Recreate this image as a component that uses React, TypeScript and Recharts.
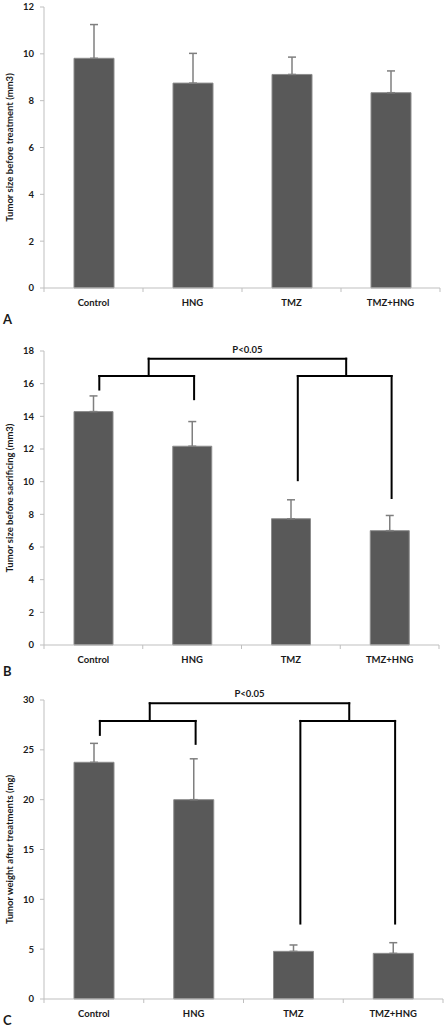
import React from 'react';
import { BarChart, Bar, XAxis, YAxis, ErrorBar, ReferenceLine } from 'recharts';

const FONT = 'Lato, "Open Sans", sans-serif';
const TEXT = '#1a1a1a';
const AXIS = '#bfbfbf';

const categories = ['Control', 'HNG', 'TMZ', 'TMZ+HNG'];
const positions = [0.5, 1.5, 2.5, 3.5];
const xTicks = [0, 0.5, 1, 1.5, 2, 2.5, 3, 3.5, 4];

const meanA = [9.81, 8.75, 9.12, 8.34];
const errA = [1.44, 1.27, 0.74, 0.93];
const ticksA = [0, 2, 4, 6, 8, 10, 12];

const meanB = [14.29, 12.17, 7.73, 7.0];
const errB = [0.96, 1.51, 1.16, 0.93];
const ticksB = [0, 2, 4, 6, 8, 10, 12, 14, 16, 18];

const meanC = [23.75, 20.0, 4.78, 4.58];
const errC = [1.9, 4.1, 0.64, 1.07];
const ticksC = [0, 5, 10, 15, 20, 25, 30];

// bracket geometry in axis units
const bracketX = [0.56, 1.52, 2.57, 3.52];
const stemX = [1.06, 3.06];
const bracketB = { top: 17.53, bar: 16.47, legs: [15.64, 15.05, 10.09, 9.0] };
const bracketC = { top: 29.67, bar: 27.9, legs: [26.5, 25.6, 7.57, 7.57] };
const pLabel = 'P<0.05';

const XTick = (props: any) => {
  const { x, y, payload } = props;
  const v = payload.value;
  if (Number.isInteger(v)) {
    return <line x1={x} x2={x} y1={y} y2={y + 4} stroke={AXIS} strokeWidth={1} />;
  }
  return (
    <text x={x} y={y + 17.5} textAnchor="middle" fill={TEXT} fontSize={9.5} fontWeight={700} fontFamily={FONT}>
      {categories[Math.floor(v)]}
    </text>
  );
};

function buildBrackets(b: { top: number; bar: number; legs: number[] } | null) {
  if (!b) return null;
  const seg = (x1: number, y1: number, x2: number, y2: number, key: string, label?: any) => (
    <ReferenceLine
      key={key}
      segment={[{ x: x1, y: y1 }, { x: x2, y: y2 }]}
      stroke="#000"
      strokeWidth={2}
      strokeLinecap="square"
      ifOverflow="visible"
      label={label}
    />
  );
  const out: any[] = [];
  out.push(seg(bracketX[0], b.bar, bracketX[1], b.bar, 'hl'));
  out.push(seg(bracketX[2], b.bar, bracketX[3], b.bar, 'hr'));
  bracketX.forEach((x, i) => out.push(seg(x, b.bar, x, b.legs[i], 'leg' + i)));
  stemX.forEach((x, i) => out.push(seg(x, b.bar, x, b.top, 'stem' + i)));
  out.push(
    seg(stemX[0], b.top, stemX[1], b.top, 'top', {
      value: pLabel,
      position: 'top',
      offset: 6,
      fill: TEXT,
      fontSize: 9.5,
      fontWeight: 700,
      fontFamily: FONT,
    })
  );
  return out;
}

function Panel(props: {
  means: number[];
  errs: number[];
  ticks: number[];
  label: string;
  height: number;
  marginTop: number;
  marginRight: number;
  barSize: number;
  brackets: { top: number; bar: number; legs: number[] } | null;
}) {
  const data = categories.map((name, i) => ({
    x: positions[i],
    name,
    mean: props.means[i],
    errRange: [0, props.errs[i]],
  }));
  const max = props.ticks[props.ticks.length - 1];
  return (
    <BarChart
      width={447}
      height={props.height}
      data={data}
      margin={{ top: props.marginTop, right: props.marginRight, bottom: 0, left: 0 }}
    >
      <XAxis
        dataKey="x"
        type="number"
        domain={[0, 4]}
        ticks={xTicks}
        interval={0}
        tickLine={false}
        tickSize={0}
        tickMargin={0}
        axisLine={{ stroke: AXIS }}
        tick={<XTick />}
        height={30}
        allowDataOverflow
      />
      <YAxis
        type="number"
        domain={[0, max]}
        ticks={props.ticks}
        interval={0}
        width={44}
        tickSize={4}
        tickMargin={6}
        axisLine={{ stroke: AXIS }}
        tickLine={{ stroke: AXIS }}
        tick={{ fill: TEXT, fontSize: 9.5, fontWeight: 700, fontFamily: FONT }}
        label={{
          value: props.label,
          angle: -90,
          position: 'insideLeft',
          offset: 10,
          style: { textAnchor: 'middle' },
          fill: TEXT,
          fontSize: 9.5,
          fontWeight: 700,
          fontFamily: FONT,
        }}
      />
      <Bar
        dataKey="mean"
        fill="#595959"
        stroke="#8c8c8c"
        strokeWidth={1}
        barSize={props.barSize}
        isAnimationActive={false}
      >
        <ErrorBar dataKey="errRange" direction="y" width={4} stroke="#7f7f7f" strokeWidth={1.5} />
      </Bar>
      {buildBrackets(props.brackets)}
    </BarChart>
  );
}

export default function App() {
  return (
    <div style={{ position: 'absolute', left: 0, top: 0, width: 447, height: 1028, background: '#fff' }}>
      <div style={{ position: 'absolute', left: 0, top: 0 }}>
        <Panel
          means={meanA}
          errs={errA}
          ticks={ticksA}
          label="Tumor size before treatment (mm3)"
          height={318}
          marginTop={7}
          marginRight={7}
          barSize={40}
          brackets={null}
        />
      </div>
      <div style={{ position: 'absolute', left: 0, top: 340 }}>
        <Panel
          means={meanB}
          errs={errB}
          ticks={ticksB}
          label="Tumor size before sacrificing (mm3)"
          height={335}
          marginTop={11}
          marginRight={8}
          barSize={39}
          brackets={bracketB}
        />
      </div>
      <div style={{ position: 'absolute', left: 0, top: 680 }}>
        <Panel
          means={meanC}
          errs={errC}
          ticks={ticksC}
          label="Tumor weight after treatments (mg)"
          height={349}
          marginTop={20}
          marginRight={4}
          barSize={40}
          brackets={bracketC}
        />
      </div>
      <svg width={447} height={1028} style={{ position: 'absolute', left: 0, top: 0, pointerEvents: 'none' }}>
        <text x={3} y={324} fontSize={13} fontWeight={700} fontFamily={FONT} fill={TEXT}>A</text>
        <text x={3} y={676} fontSize={13} fontWeight={700} fontFamily={FONT} fill={TEXT}>B</text>
        <text x={3} y={1025} fontSize={13} fontWeight={700} fontFamily={FONT} fill={TEXT}>C</text>
      </svg>
    </div>
  );
}
